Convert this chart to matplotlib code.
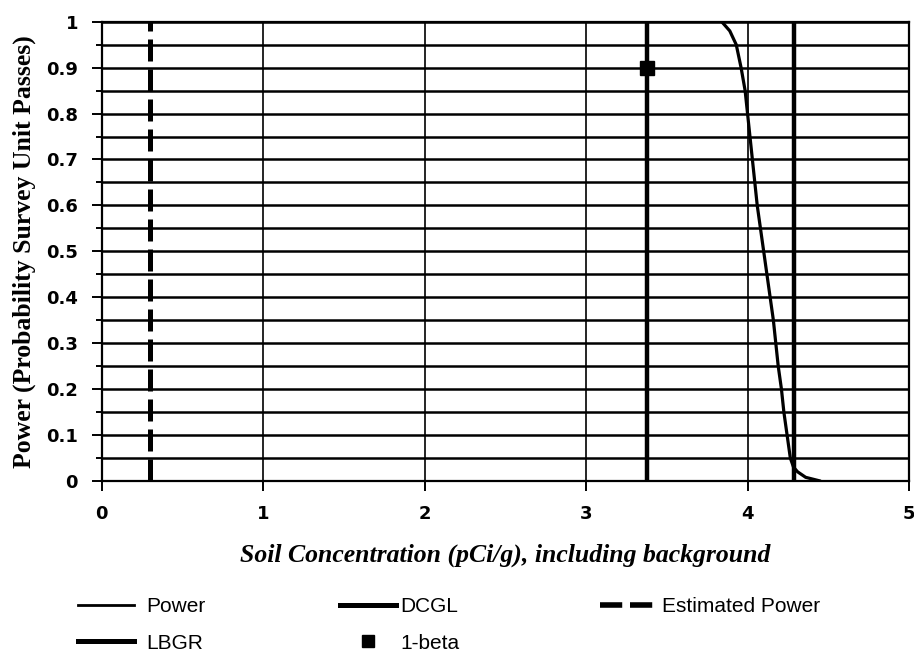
import matplotlib
matplotlib.use("Agg")
import matplotlib.pyplot as plt
from matplotlib.lines import Line2D

# ---- data ----
power_x = [3.84, 3.89, 3.93, 3.96, 3.985, 4.00, 4.015, 4.03, 4.045, 4.06, 4.08, 4.10,
           4.12, 4.14, 4.16, 4.175, 4.19, 4.21, 4.225, 4.245, 4.265, 4.285, 4.31, 4.36, 4.45]
power_y = [1.00, 0.98, 0.95, 0.90, 0.85, 0.80, 0.75, 0.70, 0.65, 0.60, 0.55, 0.50,
           0.45, 0.40, 0.35, 0.30, 0.25, 0.20, 0.15, 0.10, 0.05, 0.03, 0.02, 0.008, 0.0]
dcgl_x = 4.29
lbgr_x = 3.38
est_power_x = 0.30
one_beta = (3.38, 0.90)
x_ticks = [0, 1, 2, 3, 4, 5]
y_ticks = [0, 0.1, 0.2, 0.3, 0.4, 0.5, 0.6, 0.7, 0.8, 0.9, 1.0]
y_tick_labels = ["0", "0.1", "0.2", "0.3", "0.4", "0.5", "0.6", "0.7", "0.8", "0.9", "1"]
y_minor = [0.05, 0.15, 0.25, 0.35, 0.45, 0.55, 0.65, 0.75, 0.85, 0.95]

fig = plt.figure(figsize=(9.14, 6.57), dpi=100)
ax = fig.add_axes([101.7 / 914, 1 - 481 / 657, (909 - 101.7) / 914, (481 - 21.7) / 657])

ax.set_xlim(0, 5)
ax.set_ylim(0, 1)

# grid
ax.set_yticks(y_ticks)
ax.set_yticklabels(y_tick_labels)
ax.set_yticks(y_minor, minor=True)
ax.set_xticks(x_ticks)
ax.set_xticklabels([str(t) for t in x_ticks])
ax.grid(True, axis="y", which="both", color="black", linewidth=1.8, zorder=1)
ax.grid(True, axis="x", which="major", color="black", linewidth=1.2, zorder=1)
ax.set_axisbelow(True)

for s in ax.spines.values():
    s.set_linewidth(1.6)
    s.set_color("black")

ax.tick_params(axis="both", which="major", direction="out", length=7, width=1.4,
               labelsize=13, pad=10)
ax.tick_params(axis="y", which="minor", direction="out", length=4, width=1.4)
for lab in ax.get_xticklabels() + ax.get_yticklabels():
    lab.set_fontweight("bold")
    lab.set_family("DejaVu Sans")

# series
ax.plot(power_x, power_y, color="black", linewidth=2.3, zorder=4,
        solid_capstyle="round", solid_joinstyle="round", label="Power")
ax.axvline(dcgl_x, color="black", linewidth=3.2, zorder=3, label="DCGL")
ax.axvline(est_power_x, color="black", linewidth=3.6, zorder=3,
           dashes=(4.4, 1.6), label="Estimated Power")
ax.axvline(lbgr_x, color="black", linewidth=3.2, zorder=3, label="LBGR")
ax.plot([one_beta[0]], [one_beta[1]], linestyle="none", marker="s",
        markersize=9.5, color="black", zorder=5, label="1-beta")

ax.set_ylabel("Power (Probability Survey Unit Passes)", family="Liberation Serif",
              fontweight="bold", fontsize=18.5, labelpad=7)
ax.set_xlabel("Soil Concentration (pCi/g), including background", family="Liberation Serif",
              fontweight="bold", fontstyle="italic", fontsize=18.5, labelpad=15)

# legend (three columns placed like the reference)
leg_font = dict(family=["Liberation Sans Narrow", "Liberation Sans"], size=15)
h_power = Line2D([], [], color="black", linewidth=2.0)
h_dcgl = Line2D([], [], color="black", linewidth=3.6)
h_lbgr = Line2D([], [], color="black", linewidth=3.6)
h_est = Line2D([], [], color="black", linewidth=4.0, dashes=(4.0, 1.4))
h_beta = Line2D([], [], color="black", linestyle="none", marker="s", markersize=8.5)

cols = [
    ([h_power, h_lbgr], ["Power", "LBGR"], 78, 0.6),
    ([h_dcgl, h_beta], ["DCGL", "1-beta"], 340, 0.2),
    ([h_est], ["Estimated Power"], 600, 0.3),
]
for handles, labels, xpx, tpad in cols:
    fig.legend(handles, labels, loc="upper left",
               bbox_to_anchor=(xpx / 914, 1 - 597 / 657),
               frameon=False, prop=leg_font, handlelength=2.7,
               handletextpad=tpad, labelspacing=0.85, borderpad=0, borderaxespad=0)

fig.savefig("out.png", dpi=100)
